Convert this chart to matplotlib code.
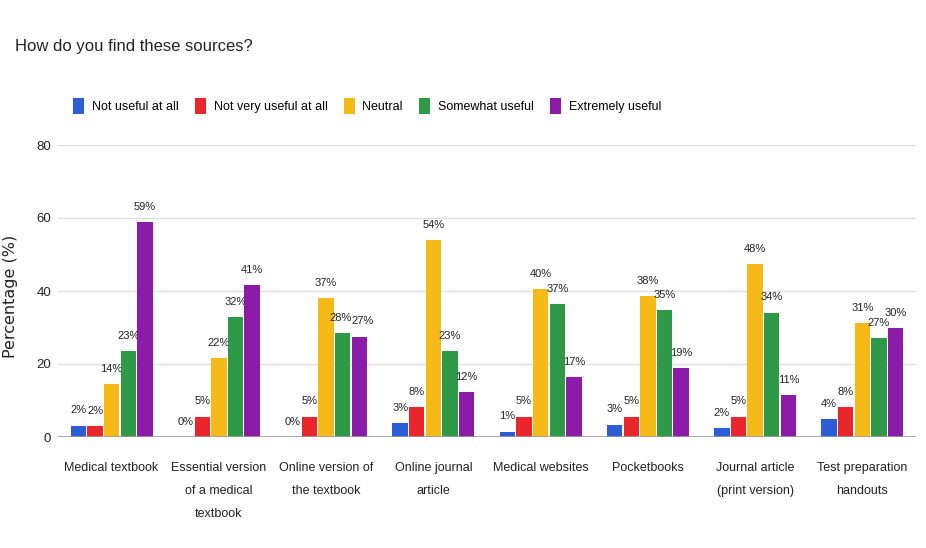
import matplotlib.pyplot as plt
import numpy as np

plt.rcParams['font.family'] = ['Liberation Sans', 'DejaVu Sans']

categories = ['Medical textbook', 'Essential version\nof a medical\ntextbook',
              'Online version of\nthe textbook', 'Online journal\narticle',
              'Medical websites', 'Pocketbooks', 'Journal article\n(print version)',
              'Test preparation\nhandouts']
series = ['Not useful at all', 'Not very useful at all', 'Neutral',
          'Somewhat useful', 'Extremely useful']

# bar heights (percent)
not_useful = [3.1, 0.0, 0.0, 3.8, 1.5, 3.4, 2.5, 5.0]
not_very = [2.9, 5.6, 5.6, 8.2, 5.6, 5.6, 5.6, 8.2]
neutral = [14.4, 21.7, 38.1, 54.0, 40.5, 38.5, 47.3, 31.1]
somewhat = [23.6, 32.8, 28.4, 23.6, 36.5, 34.7, 34.1, 27.2]
extremely = [58.9, 41.7, 27.5, 12.4, 16.4, 18.8, 11.5, 29.9]

# data labels as printed on the chart
lab_not_useful = ['2%', '0%', '0%', '3%', '1%', '3%', '2%', '4%']
lab_not_very = ['2%', '5%', '5%', '8%', '5%', '5%', '5%', '8%']
lab_neutral = ['14%', '22%', '37%', '54%', '40%', '38%', '48%', '31%']
lab_somewhat = ['23%', '32%', '28%', '23%', '37%', '35%', '34%', '27%']
lab_extremely = ['59%', '41%', '27%', '12%', '17%', '19%', '11%', '30%']

values = [not_useful, not_very, neutral, somewhat, extremely]
labels = [lab_not_useful, lab_not_very, lab_neutral, lab_somewhat, lab_extremely]
colors = ['#2b5dd6', '#e8262b', '#f5b918', '#2e9a47', '#8c1ca8']

fig = plt.figure(figsize=(9.26, 5.48), dpi=100)
ax = fig.add_axes([58 / 926, 1 - 437 / 548, 858 / 926, 292 / 548])

x = np.arange(len(categories))
w = 0.143
for i in range(5):
    pos = x + (i - 2) * (w + 0.012)
    ax.bar(pos, values[i], width=w, color=colors[i], label=series[i], zorder=3)
    for j, (p, v, t) in enumerate(zip(pos, values[i], labels[i])):
        # labels of the two close bars in the third group pushed apart a bit
        dx = 0
        if j == 2 and i == 3:
            dx = -1.5
        if j == 2 and i == 4:
            dx = 2.5
        ax.annotate(t, (p, v + 2.8), xytext=(dx, 0), textcoords='offset points',
                    ha='center', va='bottom', fontsize=8, color='#222222')

ax.set_xlim(-0.5, len(categories) - 0.5)
ax.set_ylim(0, 80)
ax.set_yticks([0, 20, 40, 60, 80])
ax.yaxis.grid(True, color='#dddddd', linewidth=0.9, zorder=0)
ax.axhline(0, color='#999999', linewidth=1.2, zorder=4)
for s in ax.spines.values():
    s.set_visible(False)
ax.tick_params(axis='both', length=0, labelsize=9.5, colors='#222222')
ax.set_xticks(x)
ax.set_xticklabels(categories, linespacing=2.2, fontsize=9)
ax.tick_params(axis='x', pad=18)
ax.tick_params(axis='y', pad=5)
ax.set_ylabel('Percentage (%)', family='DejaVu Sans', fontsize=11.5,
              color='#222222')
ax.yaxis.set_label_coords(-40 / 858, 0.48)

fig.text(15 / 926, 1 - 47 / 548, 'How do you find these sources?', fontsize=12,
         va='center', ha='left', color='#222222')
ax.legend(loc='lower left', bbox_to_anchor=(10 / 858, 1.09), ncol=5,
          frameon=False, fontsize=9, handlelength=0.9, handleheight=1.6,
          columnspacing=1.3, handletextpad=0.6, borderaxespad=0)

fig.savefig('out.png', dpi=100)
